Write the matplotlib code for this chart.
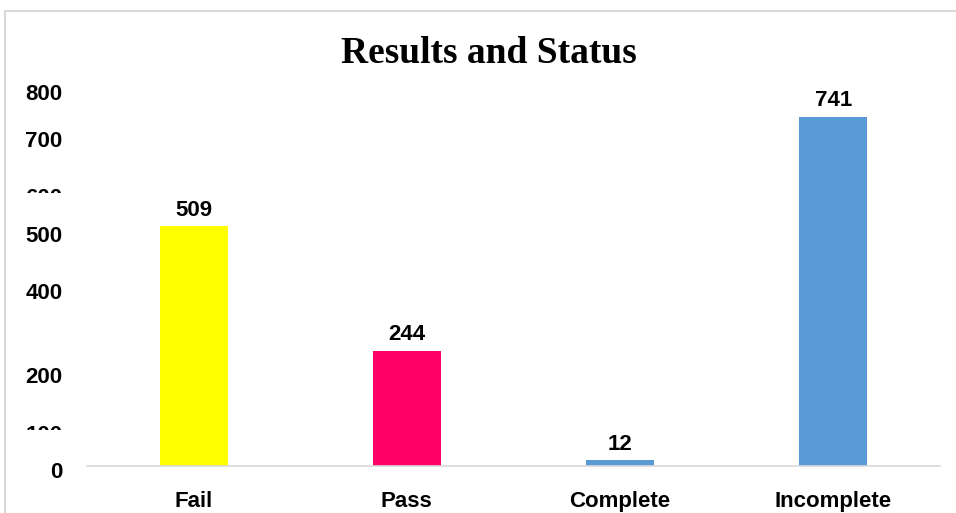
import matplotlib
matplotlib.use("Agg")
import matplotlib.pyplot as plt
from matplotlib.patches import Rectangle
from matplotlib.transforms import Bbox, TransformedBbox

# data
categories = ["Fail", "Pass", "Complete", "Incomplete"]
counts = [509, 244, 12, 741]
bar_colors = ["#FFFF00", "#FF0066", "#5B9BD5", "#5B9BD5"]

# y tick labels as printed (the source places them a bit off their values)
ytick_labels = ["800", "700", "600", "500", "400", "200", "100", "0"]
ytick_label_y = [788, 688, 567, 487, 366, 187, 64, -14]
# labels that are cut off at the bottom in the source, with the cut height (px from top)
clipped_labels = {"600": 193, "100": 430}

W, H = 956, 513
fig = plt.figure(figsize=(W / 100, H / 100), dpi=100)
fig.patch.set_facecolor("white")

# outer chart border
fig.patches.append(Rectangle((5 / W, -0.05), 1.2, 1 - 11 / H + 0.05,
                             transform=fig.transFigure, fill=False,
                             edgecolor="#d9d9d9", linewidth=1.5))

ax = fig.add_axes([87 / W, 47 / H, 853 / W, 377 / H])
ax.bar(range(len(categories)), counts, width=0.32, color=bar_colors)
ax.set_xlim(-0.5, 3.5)
ax.set_ylim(0, 800)

for s in ["top", "right", "left"]:
    ax.spines[s].set_visible(False)
ax.spines["bottom"].set_color("#d9d9d9")
ax.spines["bottom"].set_linewidth(1.2)

lab_font = dict(family="Liberation Sans", weight="bold", size=16)

ax.set_xticks(range(len(categories)))
ax.set_xticklabels(categories, **lab_font)
ax.tick_params(axis="x", length=0, pad=18)
ax.set_yticks([])

for lab, yv in zip(ytick_labels, ytick_label_y):
    t = ax.text(-0.029, yv, lab, transform=ax.get_yaxis_transform(),
                ha="right", va="center", **lab_font)
    if lab in clipped_labels:
        cut = clipped_labels[lab]
        t.set_clip_box(TransformedBbox(Bbox([[0, (H - cut) / H], [1, 1]]), fig.transFigure))
        t.set_clip_on(True)

for i, v in enumerate(counts):
    ax.annotate(str(v), (i, v), xytext=(0, 4), textcoords="offset points",
                ha="center", va="bottom", **lab_font)

fig.text(489 / W, (H - 63) / H, "Results and Status", ha="center", va="baseline",
         family="Liberation Serif", weight="bold", size=27)

fig.savefig("out.png", dpi=100)
